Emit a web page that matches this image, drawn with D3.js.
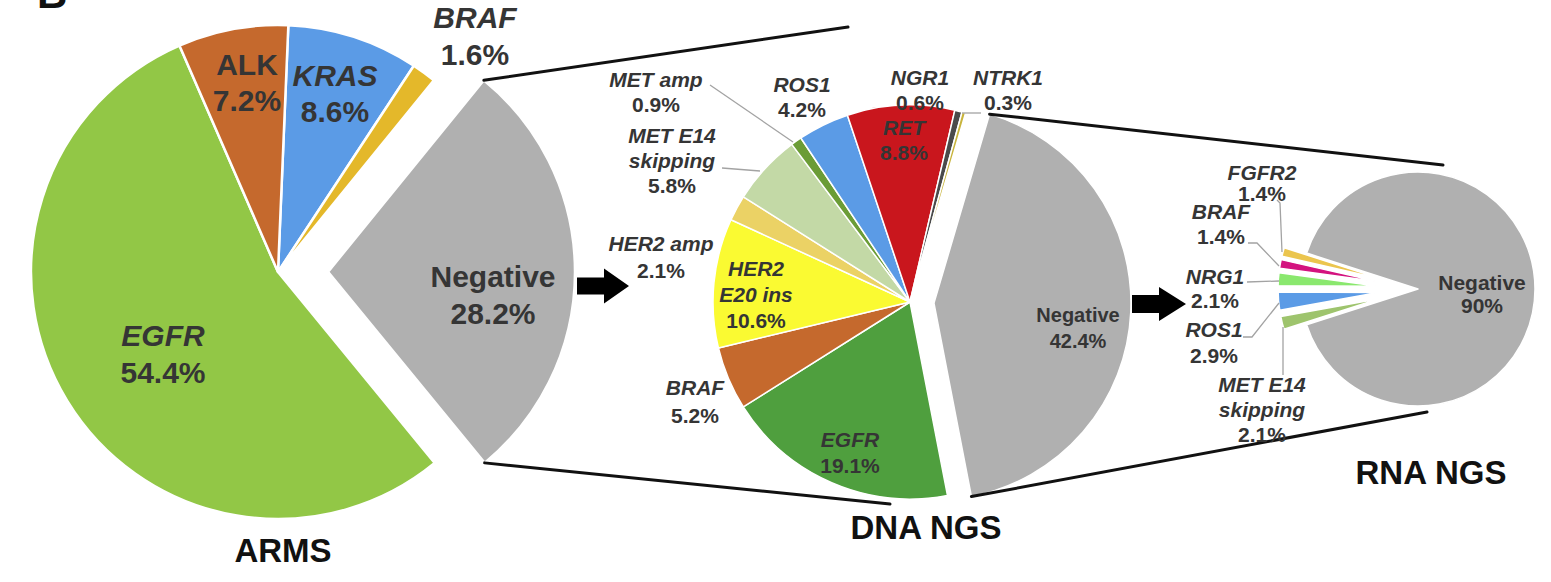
<!DOCTYPE html>
<html><head><meta charset="utf-8">
<script src="https://cdn.jsdelivr.net/npm/d3@7"></script>
<style>html,body{margin:0;padding:0;background:#fff;} svg{display:block;}</style>
</head><body>
<svg id="chart" width="1551" height="582"></svg>
<script>
// ---------------- DATA ----------------
const armsCats = ["KRAS", "BRAF", "Negative", "EGFR", "ALK"];
const armsVals = [8.6, 1.6, 28.2, 54.4, 7.2];

const dnaCats = ["Negative", "EGFR", "BRAF", "HER2 E20 ins", "HER2 amp", "MET E14 skipping", "MET amp", "ROS1", "RET", "NGR1", "NTRK1"];
const dnaVals = [42.4, 19.1, 5.2, 10.6, 2.1, 5.8, 0.9, 4.2, 8.8, 0.6, 0.3];

const rnaCats = ["MET E14 skipping", "ROS1", "NRG1", "BRAF", "FGFR2", "Negative"];
const rnaVals = [2.1, 2.9, 2.1, 1.4, 1.4, 90];

const titles = ["ARMS", "DNA NGS", "RNA NGS"];

// ---------------- STYLE / LAYOUT ----------------
const armsColors = ["#5b9be6", "#e4b82a", "#b0b0b0", "#92c746", "#c5692d"];
const dnaColors = ["#b0b0b0", "#4f9f3e", "#c5692d", "#fafa32", "#ebd265", "#c3d9a6", "#6b9c36", "#5b9be6", "#c9161d", "#4a4a4a", "#c8b43c"];
const rnaColors = ["#9ec46d", "#5b9be6", "#8ae86e", "#d3137f", "#ebc54e", "#b0b0b0"];

const deg = Math.PI / 180;
const svg = d3.select("#chart");
const FONT = "'Liberation Sans', Arial, Helvetica, sans-serif";
const TXT = "#353535";

function buildPie(cats, vals, colors, opt) {
  const data = cats.map((c, i) => ({ cat: c, v: vals[i], color: colors[i] }));
  const pie = d3.pie().sort(null).value(d => d.v)
    .startAngle(opt.start * deg).endAngle(opt.start * deg + 2 * Math.PI);
  const arcs = pie(data);
  const g = svg.append("g").attr("transform", `translate(${opt.cx},${opt.cy})`);
  arcs.forEach(a => {
    const r = (opt.radius && opt.radius[a.data.cat]) || opt.r;
    const e = (opt.explode && opt.explode[a.data.cat]) || 0;
    const mid = (a.startAngle + a.endAngle) / 2;
    a.dx = Math.sin(mid) * e; a.dy = -Math.cos(mid) * e; a.r = r;
    g.append("path")
      .attr("d", d3.arc().innerRadius(0).outerRadius(r)(a))
      .attr("transform", `translate(${a.dx},${a.dy})`)
      .attr("fill", a.data.color)
      .attr("stroke", "#fff").attr("stroke-width", opt.sw)
      .attr("stroke-linejoin", "round");
  });
  const corner = (cat, which) => {
    const a = arcs.find(d => d.data.cat === cat);
    const ang = which === "start" ? a.startAngle : a.endAngle;
    return [opt.cx + a.dx + Math.sin(ang) * a.r, opt.cy + a.dy - Math.cos(ang) * a.r];
  };
  return { arcs, corner };
}

const arms = buildPie(armsCats, armsVals, armsColors,
  { cx: 278, cy: 272, r: 247, start: 2.4, sw: 2.5, explode: { "Negative": 50 } });
const dna = buildPie(dnaCats, dnaVals, dnaColors,
  { cx: 910, cy: 302, r: 197, start: 16.4, sw: 1.5, explode: { "Negative": 24 } });
const rna = buildPie(rnaCats, rnaVals, rnaColors,
  { cx: 1418, cy: 289, r: 100, start: 252.2, sw: 1.5,
    radius: { "Negative": 117 },
    explode: { "MET E14 skipping": 40, "ROS1": 40, "NRG1": 40, "BRAF": 40, "FGFR2": 40 } });

// connector lines (zoom lines) from exploded Negative slices
const connectors = [
  [arms.corner("Negative", "start"), [848, 27]],
  [arms.corner("Negative", "end"), [890, 504]],
  [dna.corner("Negative", "start"), [1443, 165]],
  [dna.corner("Negative", "end"), [1427, 412]]
];
connectors.forEach(([p, q]) => {
  svg.append("line").attr("x1", p[0]).attr("y1", p[1]).attr("x2", q[0]).attr("y2", q[1])
    .attr("stroke", "#111").attr("stroke-width", 3).attr("stroke-linecap", "round");
});

// leader lines
const leaders = [
  [[710, 85], [793, 142]],
  [[722, 168], [760, 171]],
  [[962, 113], [981, 113]],
  [[1277, 200], [1280, 203], [1282, 252]],
  [[1248, 243], [1257, 243], [1279, 266]],
  [[1247, 282], [1279, 281]],
  [[1243, 337], [1252, 337], [1279, 303]],
  [[1283, 327], [1283, 375]]
];
leaders.forEach(pts => {
  svg.append("path").attr("d", d3.line()(pts)).attr("fill", "none")
    .attr("stroke", "#a3a3a3").attr("stroke-width", 1.3);
});

// arrows
const arrows = [
  { x0: 577, xh: 604, x1: 629, cy: 286, sh: 17, hh: 35 },
  { x0: 1132, xh: 1159, x1: 1186, cy: 304, sh: 18, hh: 34 }
];
arrows.forEach(a => {
  const pts = [[a.x0, a.cy - a.sh / 2], [a.xh, a.cy - a.sh / 2], [a.xh, a.cy - a.hh / 2], [a.x1, a.cy],
    [a.xh, a.cy + a.hh / 2], [a.xh, a.cy + a.sh / 2], [a.x0, a.cy + a.sh / 2]];
  svg.append("path").attr("d", d3.line()(pts) + "Z").attr("fill", "#000");
});

// labels
const fmt = v => `${v}%`;
const nameLines = {
  "MET E14 skipping": ["MET E14", "skipping"],
  "HER2 E20 ins": ["HER2", "E20 ins"]
};
const nonItalic = ["ALK", "Negative"];
function lookup(cats, vals, cat) { return vals[cats.indexOf(cat)]; }

const labels = [
  // ARMS
  { cats: armsCats, vals: armsVals, cat: "ALK", x: 247, y: 75, fs: 30, lh: 36 },
  { cats: armsCats, vals: armsVals, cat: "KRAS", x: 335, y: 86, fs: 30, lh: 36 },
  { cats: armsCats, vals: armsVals, cat: "BRAF", x: 475, y: 28, fs: 30, lh: 37 },
  { cats: armsCats, vals: armsVals, cat: "Negative", x: 493, y: 287, fs: 30, lh: 37 },
  { cats: armsCats, vals: armsVals, cat: "EGFR", x: 163, y: 346, fs: 30, lh: 37 },
  // DNA
  { cats: dnaCats, vals: dnaVals, cat: "MET amp", x: 656, y: 87, fs: 21, lh: 25 },
  { cats: dnaCats, vals: dnaVals, cat: "ROS1", x: 802, y: 92, fs: 21, lh: 25 },
  { cats: dnaCats, vals: dnaVals, cat: "NGR1", x: 920, y: 85, fs: 21, lh: 25 },
  { cats: dnaCats, vals: dnaVals, cat: "NTRK1", x: 1008, y: 85, fs: 21, lh: 25 },
  { cats: dnaCats, vals: dnaVals, cat: "RET", x: 904, y: 135, fs: 21, lh: 25 },
  { cats: dnaCats, vals: dnaVals, cat: "MET E14 skipping", x: 672, y: 143, fs: 21, lh: 25 },
  { cats: dnaCats, vals: dnaVals, cat: "HER2 amp", x: 661, y: 251, fs: 21, lh: 27 },
  { cats: dnaCats, vals: dnaVals, cat: "HER2 E20 ins", x: 756, y: 276, fs: 21, lh: 26 },
  { cats: dnaCats, vals: dnaVals, cat: "BRAF", x: 695, y: 395, fs: 21, lh: 28 },
  { cats: dnaCats, vals: dnaVals, cat: "EGFR", x: 850, y: 447, fs: 21, lh: 26 },
  { cats: dnaCats, vals: dnaVals, cat: "Negative", x: 1078, y: 322, fs: 20, lh: 26 },
  // RNA
  { cats: rnaCats, vals: rnaVals, cat: "FGFR2", x: 1262, y: 180, fs: 21, lh: 21 },
  { cats: rnaCats, vals: rnaVals, cat: "BRAF", x: 1221, y: 219, fs: 21, lh: 25 },
  { cats: rnaCats, vals: rnaVals, cat: "NRG1", x: 1215, y: 284, fs: 21, lh: 24 },
  { cats: rnaCats, vals: rnaVals, cat: "ROS1", x: 1214, y: 337, fs: 21, lh: 26 },
  { cats: rnaCats, vals: rnaVals, cat: "MET E14 skipping", x: 1262, y: 392, fs: 21, lh: 25 },
  { cats: rnaCats, vals: rnaVals, cat: "Negative", x: 1482, y: 290, fs: 21, lh: 23 }
];
labels.forEach(L => {
  const v = lookup(L.cats, L.vals, L.cat);
  const names = nameLines[L.cat] || [L.cat];
  const italic = !nonItalic.includes(L.cat);
  const t = svg.append("text").attr("x", L.x).attr("y", L.y)
    .attr("text-anchor", "middle").attr("font-family", FONT)
    .attr("font-weight", "bold").attr("font-size", L.fs).attr("fill", TXT);
  names.forEach((n, i) => {
    t.append("tspan").attr("x", L.x).attr("dy", i === 0 ? 0 : L.lh)
      .attr("font-style", italic ? "italic" : "normal").text(n);
  });
  t.append("tspan").attr("x", L.x).attr("dy", L.lh).attr("font-style", "normal").text(fmt(v));
});

// titles
const titlePos = [[283, 562], [926, 539], [1431, 484]];
titles.forEach((t, i) => {
  svg.append("text").attr("x", titlePos[i][0]).attr("y", titlePos[i][1])
    .attr("text-anchor", "middle").attr("font-family", FONT).attr("font-weight", "bold")
    .attr("font-size", 33).attr("fill", "#111").text(t);
});

// panel letter (cropped at top, as in the source figure)
svg.append("text").attr("x", 37).attr("y", 8).attr("font-family", FONT)
  .attr("font-weight", "bold").attr("font-size", 42).attr("fill", "#111").text("B");
</script>
</body></html>
